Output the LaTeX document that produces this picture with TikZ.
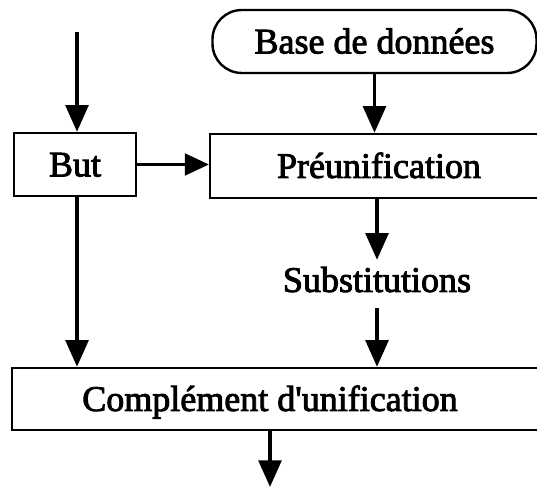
\documentclass[tikz,border=0pt]{standalone}
\usepackage{fontspec}
\setmainfont{Liberation Serif}
\newfontfamily\labelfont{Liberation Serif}[FakeBold=2.5]
\usetikzlibrary{arrows.meta}
\begin{document}
\begin{tikzpicture}[x=0.75pt,y=-0.75pt,
  box/.style={draw,line width=1.8pt,inner sep=0pt,minimum height=47.25pt},
  txt/.style={font=\labelfont\fontsize{27}{31}\selectfont,text height=17.9pt,text depth=0pt},
  arr/.style={line width=2.8pt,-{Triangle[length=20pt,width=17pt]}},
  harr/.style={line width=1.6pt,-{Triangle[length=18pt,width=16.5pt]}}]
\useasboundingbox (0,0) rectangle (537,489);
\clip (0,0) rectangle (537,489);

% boxes
\node[box,txt,rounded corners=22pt,minimum width=243pt] (base) at (374.5,41.5) {Base de données};
\node[box,txt,minimum width=91.5pt] (but) at (75,164.5) {But};
\node[box,txt,minimum width=253.5pt,minimum height=48pt] (pre) at (379,166) {Préunification};
\node[txt,inner ysep=6pt,inner xsep=0pt] (subst) at (377,280) {Substitutions};
\node[box,minimum width=403.5pt,minimum height=46.5pt,
      label={[txt,xshift=-8.25pt]center:Complément d'unification}] (comp) at (281,399) {};

% free ends
\coordinate (in) at (77,32);
\coordinate (out) at (270,487);

% connectors
\draw[arr] (in) -- (in |- but.north);
\draw[harr] (but.east) -- (pre.west |- but.east);
\draw[arr] (base.south) -- (base.south |- pre.north);
\draw[arr] (pre.south -| subst.north) -- (subst.north);
\draw[arr] ([yshift=-6pt]subst.south) -- (subst.south |- comp.north);
\draw[arr] (but.south -| in) -- (in |- comp.north);
\draw[arr] (comp.south -| out) -- (out);
\end{tikzpicture}
\end{document}
